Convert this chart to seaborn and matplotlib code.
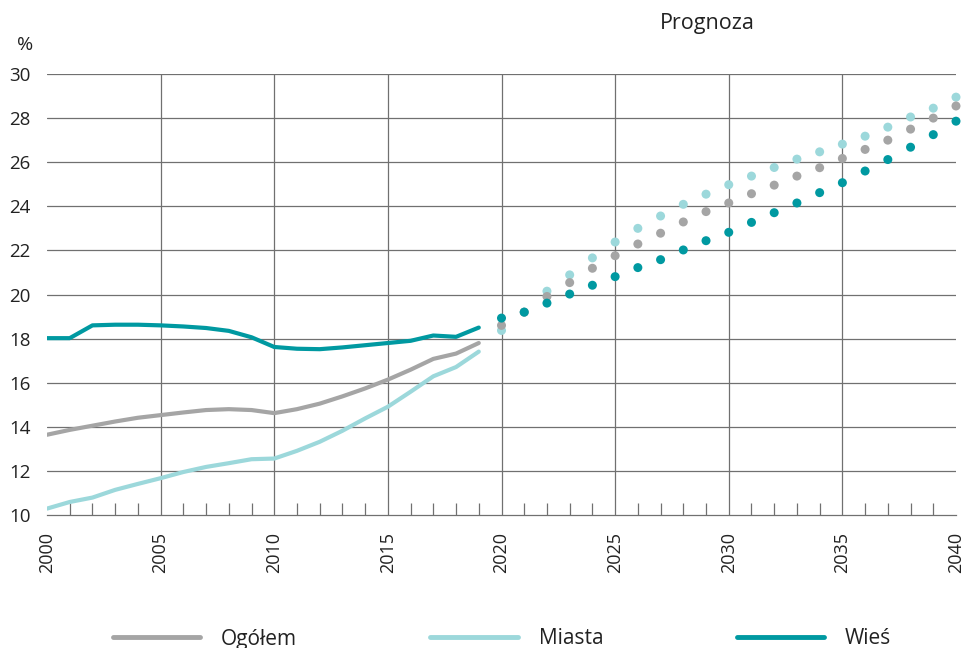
import numpy as np
import pandas as pd
import matplotlib
matplotlib.use("Agg")
import matplotlib.pyplot as plt
from matplotlib.lines import Line2D
import seaborn as sns

# ---- data ----
hist_years = list(range(2000, 2020))
ogolem_hist = [13.64, 13.86, 14.05, 14.24, 14.41, 14.53, 14.65, 14.76, 14.80, 14.76,
               14.62, 14.80, 15.05, 15.38, 15.74, 16.14, 16.59, 17.08, 17.32, 17.80]
miasta_hist = [10.29, 10.59, 10.79, 11.14, 11.41, 11.67, 11.95, 12.18, 12.35, 12.53,
               12.56, 12.91, 13.32, 13.82, 14.38, 14.91, 15.59, 16.29, 16.71, 17.41]
wies_hist = [18.02, 18.02, 18.60, 18.63, 18.63, 18.60, 18.55, 18.48, 18.35, 18.06,
             17.62, 17.54, 17.52, 17.60, 17.70, 17.80, 17.90, 18.14, 18.08, 18.50]

fc_years = list(range(2020, 2041))
ogolem_fc = [18.60, 19.20, 19.91, 20.54, 21.19, 21.76, 22.29, 22.78, 23.29, 23.76,
             24.15, 24.57, 24.96, 25.37, 25.75, 26.17, 26.58, 27.00, 27.50, 28.00, 28.55]
miasta_fc = [18.37, 19.20, 20.15, 20.89, 21.66, 22.38, 23.00, 23.56, 24.09, 24.55,
             24.98, 25.37, 25.76, 26.14, 26.47, 26.82, 27.18, 27.59, 28.05, 28.45, 28.95]
wies_fc = [18.93, 19.20, 19.61, 20.02, 20.42, 20.81, 21.22, 21.58, 22.02, 22.44,
           22.82, 23.27, 23.71, 24.15, 24.62, 25.07, 25.60, 26.12, 26.68, 27.25, 27.86]

series_names = ["Ogółem", "Miasta", "Wieś"]
colors = {"Ogółem": "#a5a5a5", "Miasta": "#9cd8db", "Wieś": "#0099a1"}
x_ticks = list(range(2000, 2041, 5))
y_ticks = list(range(10, 31, 2))

hist = pd.DataFrame({
    "year": hist_years * 3,
    "value": ogolem_hist + miasta_hist + wies_hist,
    "series": ["Ogółem"] * 20 + ["Miasta"] * 20 + ["Wieś"] * 20,
})
fc = pd.DataFrame({
    "year": fc_years * 3,
    "value": ogolem_fc + miasta_fc + wies_fc,
    "series": ["Ogółem"] * 21 + ["Miasta"] * 21 + ["Wieś"] * 21,
})

sns.set_style("white")
plt.rcParams["font.family"] = ["Open Sans", "DejaVu Sans"]

fig = plt.figure(figsize=(9.65, 6.48), dpi=100)
ax = fig.add_axes([47 / 965, 1 - 515 / 648, (956 - 47) / 965, (515 - 74) / 648])

grid_color = "#707070"
for y in y_ticks[1:]:
    ax.axhline(y, color=grid_color, lw=0.9, zorder=1)
for x in x_ticks[1:-1]:
    ax.axvline(x, color=grid_color, lw=0.9, zorder=1)

draw_order = ["Miasta", "Ogółem", "Wieś"]
for name in draw_order:
    sns.lineplot(data=hist[hist.series == name], x="year", y="value",
                 color=colors[name], lw=3.0, ax=ax, zorder=3, legend=False)
for name in draw_order:
    sns.scatterplot(data=fc[fc.series == name], x="year", y="value",
                    color=colors[name], s=42, edgecolor="none", ax=ax,
                    zorder=4, legend=False, clip_on=False)

ax.set_xlim(2000, 2040)
ax.set_ylim(10, 30)
ax.set_xticks(x_ticks)
ax.set_xticklabels([str(t) for t in x_ticks], rotation=90, fontsize=13, color="#222222")
ax.set_xticks([y for y in range(2001, 2040) if y % 5 != 0], minor=True)
ax.tick_params(axis="x", which="major", length=0, pad=12)
ax.tick_params(axis="x", which="minor", direction="in", length=9, width=0.9,
               color=grid_color, bottom=True)
ax.set_yticks(y_ticks)
ax.set_yticklabels([str(t) for t in y_ticks], fontsize=13.5, color="#222222")
ax.tick_params(axis="y", length=0, pad=12)
ax.set_xlabel("")
ax.set_ylabel("")
for s in ["left", "right", "top"]:
    ax.spines[s].set_visible(False)
ax.spines["bottom"].set_color(grid_color)
ax.spines["bottom"].set_linewidth(0.9)

fig.text(25 / 965, 1 - 45 / 648, "%", fontsize=14, ha="center", va="center", color="#222222")
fig.text(707 / 965, 1 - 24 / 648, "Prognoza", fontsize=15.5, ha="center", va="center", color="#222222")

handles = [Line2D([0], [0], color=colors[n], lw=3.5, solid_capstyle="round") for n in series_names]
fig.legend(handles, series_names, loc="center", bbox_to_anchor=(502 / 965, 1 - 639 / 648),
           ncol=3, frameon=False, fontsize=15, handlelength=4.2, handletextpad=1.0,
           columnspacing=6.4, labelcolor="#222222")

fig.savefig("out.png", dpi=100)
